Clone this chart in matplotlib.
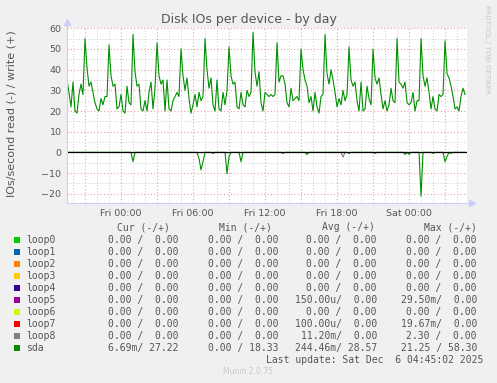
"""
Munin style "Disk IOs per device - by day" chart.
Writes out.png (497x383 px).
"""

import matplotlib

matplotlib.use("Agg")
import matplotlib.pyplot as plt
import numpy as np
from matplotlib.lines import Line2D
from matplotlib.patches import Rectangle
from matplotlib.ticker import FuncFormatter, MultipleLocator

W, H = 497, 383

# sda write (IOs/s), one sample every 10 min starting Thu 19:30
sda_write = [
    35, 29, 22, 34, 20, 19, 28, 33, 28, 55, 41, 32,
    34, 29, 24, 21, 20, 26, 23, 27, 27, 52, 37, 32,
    33, 21, 22, 28, 20, 19, 32, 24, 23, 57, 39, 32,
    33, 21, 20, 25, 20, 29, 34, 21, 31, 53, 37, 33,
    35, 20, 35, 21, 20, 25, 27, 29, 27, 50, 37, 30,
    36, 26, 19, 23, 28, 22, 29, 25, 27, 55, 40, 31,
    36, 23, 20, 35, 21, 20, 29, 23, 30, 51, 37, 33,
    34, 22, 21, 29, 23, 22, 30, 27, 29, 58, 39, 32,
    39, 24, 20, 29, 28, 27, 28, 27, 28, 53, 34, 37,
    37, 33, 24, 22, 31, 25, 26, 27, 25, 50, 40, 35,
    32, 24, 27, 20, 29, 22, 19, 27, 28, 57, 38, 33,
    40, 35, 29, 22, 26, 23, 30, 25, 28, 51, 35, 32,
    34, 25, 20, 34, 20, 21, 32, 26, 23, 50, 36, 33,
    36, 28, 21, 25, 20, 23, 31, 25, 24, 55, 34, 33,
    31, 34, 24, 23, 24, 29, 20, 25, 25, 55, 37, 32,
    36, 29, 21, 27, 21, 20, 28, 27, 28, 54, 38, 36,
    32, 27, 21, 22, 20, 27, 31, 28,
]

# sda read (IOs/s), drawn below zero
sda_read = [
    0, 0, 0, 0, 0, 0, 0, 0, 0, 0, 0, 0,
    0, 0, 0, 0, 0, 0, 0, 0, 0, 0, 0, 0,
    0, 0, 0, 0, 0, 0, 0, 0, 0, 4.5, 0, 0,
    0, 0, 0, 0, 0, 0, 0, 0, 0, 0, 0, 0,
    0, 0, 0, 0, 0, 0, 0, 0, 0, 0, 0, 0,
    0, 0, 0, 0, 0, 0, 3, 8.5, 4.5, 0, 0, 0,
    0, 0.5, 0, 0, 0, 0, 0, 0, 10.3, 2, 0, 0,
    0, 0, 0, 4.5, 0, 0, 0, 0, 0, 0, 0, 0,
    0, 0, 0, 0, 0, 0, 0, 0, 0, 0, 0, 0,
    0.5, 0, 0, 0, 0, 0, 0, 0, 0, 0, 0, 0,
    1, 0, 0, 0, 0, 0, 0, 0, 0, 0, 0, 0,
    0, 0, 0, 0, 0, 0, 0, 0, 0, 0.5, 0, 0,
    0, 0, 0, 0, 0, 0, 0, 0, 0, 0, 0.5, 0,
    0, 0, 0, 0, 0, 0, 0, 0, 0, 0, 0, 0,
    0, 1, 0, 1, 0, 0, 0, 0, 0, 21.25, 0, 0,
    0, 0, 0, 0.5, 0, 0, 0, 0, 0, 4.5, 2, 0,
    0.5, 0, 0, 0, 0, 0, 0, 0,
]

# loop8 read spike (sample index, value)
loop8_idx = [138]
loop8_read = [2.3]

t_start_h = -4.5      # hours relative to Fri 00:00
t_step_h = 10 / 60
t_end_h = 28.83

x_tick_labels = {0: "Fri 00:00", 6: "Fri 06:00", 12: "Fri 12:00",
                 18: "Fri 18:00", 24: "Sat 00:00"}

devices = ["loop0", "loop1", "loop2", "loop3", "loop4",
           "loop5", "loop6", "loop7", "loop8", "sda"]
colors = ["#00CC00", "#0066B3", "#FF8000", "#FFCC00", "#330099",
          "#990099", "#CCFF00", "#FF0000", "#808080", "#008F00"]
cur_vals = ["0.00 /  0.00"] * 9 + ["6.69m/ 27.22"]
min_vals = ["0.00 /  0.00"] * 9 + ["0.00 / 18.33"]
avg_vals = ["0.00 /  0.00"] * 5 + ["150.00u/  0.00", "0.00 /  0.00",
                                   "100.00u/  0.00", "11.20m/  0.00",
                                   "244.46m/ 28.57"]
max_vals = ["0.00 /  0.00"] * 5 + ["29.50m/  0.00", "0.00 /  0.00",
                                   "19.67m/  0.00", "2.30 /  0.00",
                                   "21.25 / 58.30"]

TEXT = "#555555"
AXIS = "#CCCCFF"


def fx(x):
    return x / W


def fy(y):
    return 1 - y / H


def main():
    fig = plt.figure(figsize=(W / 100, H / 100), dpi=100, facecolor="#F0F0F0")
    ax = fig.add_axes([fx(67), fy(203), 400 / W, 175 / H])
    ax.set_facecolor("white")

    times = t_start_h + t_step_h * np.arange(len(sda_write))

    # grid
    ax.set_xlim(t_start_h, t_end_h)
    ax.set_ylim(-24.5, 60.15)
    ax.xaxis.set_major_locator(MultipleLocator(3))
    ax.xaxis.set_minor_locator(MultipleLocator(1))
    ax.yaxis.set_major_locator(MultipleLocator(10))
    ax.yaxis.set_minor_locator(MultipleLocator(5))
    ax.grid(which="minor", color="#CCCCCC", linestyle=(0, (1, 2)), lw=0.7)
    ax.grid(which="major", color="#F0A0A0", linestyle=(0, (1, 2)), lw=0.8)
    ax.set_axisbelow(True)

    ax.xaxis.set_major_formatter(
        FuncFormatter(lambda v, p: x_tick_labels.get(int(round(v)), "")))
    ax.tick_params(axis="both", which="both", length=0, colors=TEXT,
                   labelsize=6.8)
    ax.tick_params(axis="x", pad=4)
    ax.tick_params(axis="y", pad=4)
    for s in ax.spines.values():
        s.set_visible(False)

    # data
    read_neg = -np.asarray(sda_read, dtype=float)
    ax.plot(times[loop8_idx], -np.asarray(loop8_read), color=colors[8],
            lw=0.8)
    for i in loop8_idx:
        ax.plot(times[i - 1:i + 2], [0, -loop8_read[0], 0], color=colors[8],
                lw=0.8)
    ax.plot(times, read_neg, color=colors[9], lw=0.8)
    ax.plot(times, sda_write, color=colors[9], lw=0.8)
    ax.axhline(0, color="black", lw=0.9, zorder=5)

    # axis lines with arrows
    fig.add_artist(Line2D([fx(67), fx(67)], [fy(203), fy(24)], color=AXIS,
                          lw=0.8, transform=fig.transFigure))
    fig.add_artist(Line2D([fx(67), fx(470)], [fy(203), fy(203)], color=AXIS,
                          lw=0.8, transform=fig.transFigure))
    fig.add_artist(Line2D([fx(67)], [fy(22)], marker="^", color=AXIS,
                          markersize=4, transform=fig.transFigure))
    fig.add_artist(Line2D([fx(472)], [fy(203)], marker=">", color=AXIS,
                          markersize=4, transform=fig.transFigure))

    # titles
    fig.text(fx(248.5), fy(19), "Disk IOs per device - by day",
             ha="center", va="center", fontsize=9, color=TEXT)
    fig.text(fx(12), fy(114), "IOs/second read (-) / write (+)",
             ha="center", va="center", rotation=90, fontsize=8, color=TEXT)
    fig.text(fx(487), fy(5), "RRDTOOL / TOBI OETIKER", ha="center",
             va="top", rotation=270, fontsize=5, color="#C8C8C8")

    # legend table
    mono = dict(family="DejaVu Sans Mono", fontsize=7, color=TEXT,
                va="center")
    headers = ["Cur (-/+)", "Min (-/+)", "Avg (-/+)", "Max (-/+)"]
    header_right = [169.5, 272, 374.5, 477]
    value_right = [179, 278, 377, 477]
    for h, xr in zip(headers, header_right):
        fig.text(fx(xr), fy(227), h, ha="right", **mono)

    columns = [cur_vals, min_vals, avg_vals, max_vals]
    for r, name in enumerate(devices):
        y = 240 + 12 * r
        fig.add_artist(Rectangle((fx(14), fy(y + 3)), 6 / W, 6 / H,
                                 facecolor=colors[r], edgecolor="none",
                                 transform=fig.transFigure))
        fig.text(fx(26.5), fy(y), name, ha="left", **mono)
        for col, xr in zip(columns, value_right):
            fig.text(fx(xr), fy(y), col[r], ha="right", **mono)

    fig.text(fx(483), fy(360), "Last update: Sat Dec  6 04:45:02 2025",
             ha="right", **mono)
    fig.text(fx(248), fy(372), "Munin 2.0.75", ha="center", va="center",
             fontsize=5.5, color="#C8C8C8")

    fig.savefig("out.png", dpi=100, facecolor=fig.get_facecolor())
    plt.close(fig)


if __name__ == "__main__":
    main()
